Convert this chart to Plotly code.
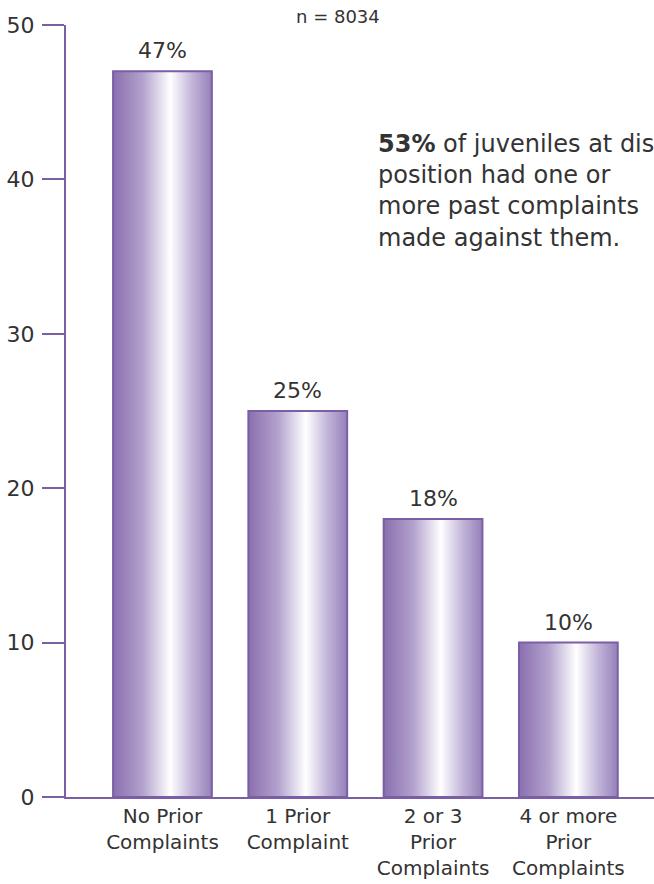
import plotly.graph_objects as go

# Share of juveniles at disposition by number of prior complaints
categories = ["No Prior<br>Complaints", "1 Prior<br>Complaint",
              "2 or 3<br>Prior<br>Complaints", "4 or more<br>Prior<br>Complaints"]
percents = [47, 25, 18, 10]
y_ticks = [0, 10, 20, 30, 40, 50]
sample_note = "n = 8034"
callout = ("<b>53%</b> of juveniles at dis-<br>position had one or<br>"
           "more past complaints<br>made against them.")

FONT = "DejaVu Sans"
TEXT = "#333333"
PURPLE = "#7b5fa6"
BAR_WIDTH = 0.73
gradient = [[0.0, "#8a6fae"], [0.3, "#b2a2cd"], [0.58, "#ffffff"],
            [0.8, "#c2b5d9"], [1.0, "#9580b8"]]

fig = go.Figure()

positions = list(range(len(categories)))
for pos, val in zip(positions, percents):
    x0, x1 = pos - BAR_WIDTH / 2, pos + BAR_WIDTH / 2
    fig.add_trace(go.Scatter(
        x=[x0, x0, x1, x1, x0], y=[0, val, val, 0, 0],
        mode="lines", fill="toself",
        fillgradient=dict(type="horizontal", colorscale=gradient),
        line=dict(color=PURPLE, width=2),
        hoverinfo="skip", showlegend=False,
    ))
    fig.add_annotation(x=pos, y=val, text=f"{val}%", showarrow=False,
                       xanchor="center", yanchor="bottom", yshift=6,
                       font=dict(family=FONT, size=22, color=TEXT))

fig.add_annotation(x=1.578, y=43.3, text=callout, showarrow=False,
                   xanchor="left", yanchor="top", align="left",
                   font=dict(family=FONT, size=24, color=TEXT))
fig.add_annotation(xref="paper", yref="paper", x=(338 - 66) / 588,
                   y=(797 - 17) / 772, text=sample_note, showarrow=False,
                   xanchor="center", yanchor="middle",
                   font=dict(family=FONT, size=18, color=TEXT))

fig.update_xaxes(range=[-0.713, 3.633], tickvals=positions, ticktext=categories,
                 showline=True, linecolor=PURPLE, linewidth=2, ticks="",
                 showgrid=False, zeroline=False, fixedrange=True,
                 tickfont=dict(family=FONT, size=20, color=TEXT))
fig.update_yaxes(range=[0, 50], tickvals=y_ticks, showline=True,
                 linecolor=PURPLE, linewidth=2, ticks="outside", ticklen=22,
                 tickwidth=2, tickcolor=PURPLE, ticklabelstandoff=3,
                 showgrid=False, zeroline=False, fixedrange=True,
                 tickfont=dict(family=FONT, size=22, color=TEXT))

fig.update_layout(width=654, height=884, plot_bgcolor="white",
                  paper_bgcolor="white",
                  margin=dict(l=66, r=0, t=25, b=87))

fig.write_html("out.html", config={"displayModeBar": False})
